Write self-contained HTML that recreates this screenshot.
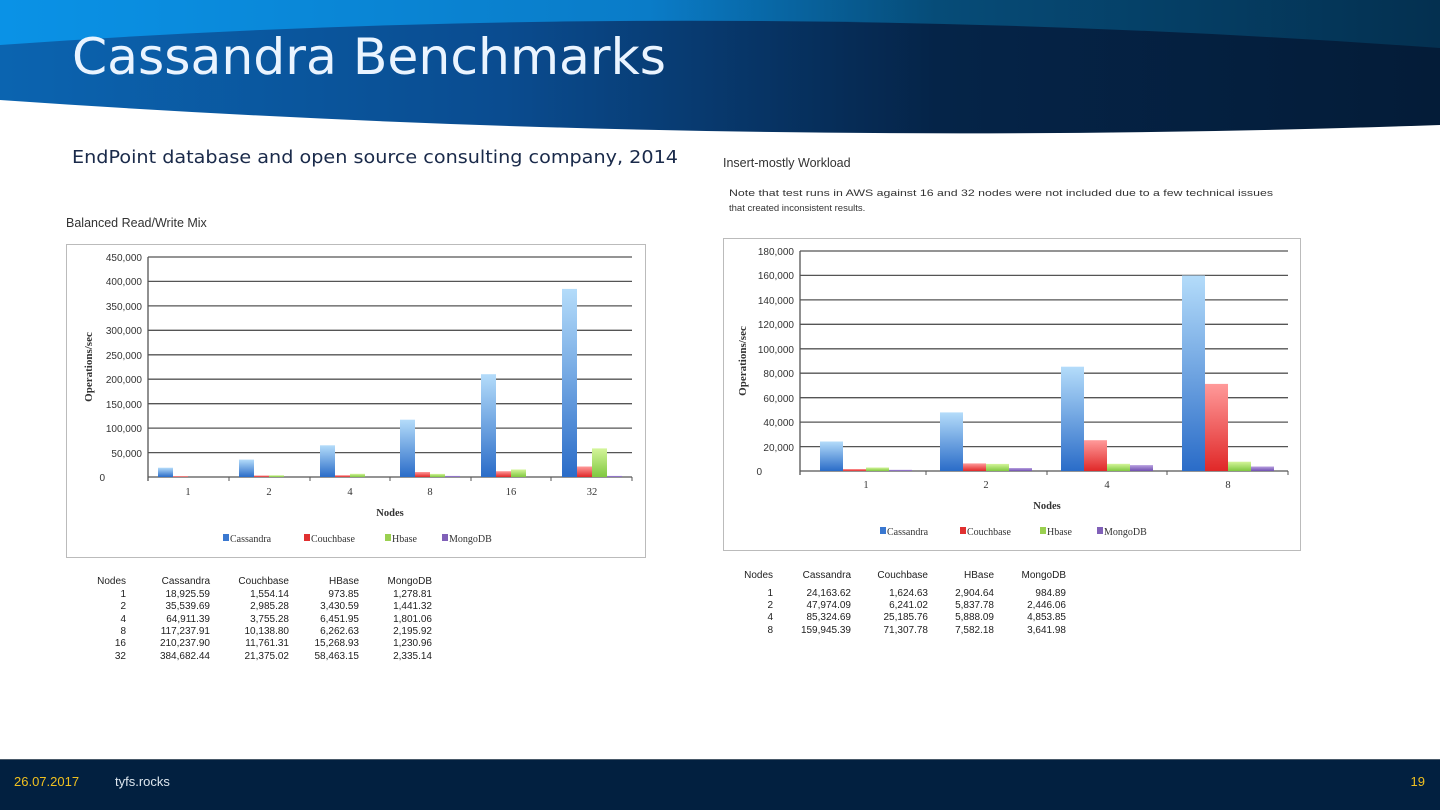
<!DOCTYPE html>
<html><head><meta charset="utf-8"><style>
body{margin:0;width:1440px;height:810px;overflow:hidden;background:#fff;font-family:"Liberation Sans",sans-serif;}
svg{display:block}
</style></head><body>
<svg width="1440" height="810" xmlns="http://www.w3.org/2000/svg">
<defs>
<linearGradient id="top" x1="0" x2="1" y1="0" y2="0"><stop offset="0" stop-color="#0a92e6"/><stop offset="0.45" stop-color="#0a7cc8"/><stop offset="0.65" stop-color="#064c78"/><stop offset="1" stop-color="#043050"/></linearGradient>
<linearGradient id="ell" x1="0" x2="1" y1="0" y2="0"><stop offset="0" stop-color="#0b64b0"/><stop offset="0.35" stop-color="#0a4c90"/><stop offset="0.65" stop-color="#052448"/><stop offset="1" stop-color="#041c38"/></linearGradient>
<linearGradient id="gc" x1="0" x2="0" y1="0" y2="1"><stop offset="0" stop-color="#b4dcfa"/><stop offset="1" stop-color="#2a6cc8"/></linearGradient>
<linearGradient id="gr" x1="0" x2="0" y1="0" y2="1"><stop offset="0" stop-color="#ff9a9a"/><stop offset="1" stop-color="#e02828"/></linearGradient>
<linearGradient id="gg" x1="0" x2="0" y1="0" y2="1"><stop offset="0" stop-color="#d4f59a"/><stop offset="1" stop-color="#80c840"/></linearGradient>
<linearGradient id="gp" x1="0" x2="0" y1="0" y2="1"><stop offset="0" stop-color="#b8a0e0"/><stop offset="1" stop-color="#7050b0"/></linearGradient>
</defs>
<path d="M0 0H1440V120Q720 90 0 60Z" fill="url(#top)"/>
<path d="M0 45Q700 -5 1440 48V125Q720 150 0 100Z" fill="url(#ell)"/>
<text x="72" y="74" font-family="'DejaVu Sans',sans-serif" font-size="50" fill="#eaf4ff" textLength="594" lengthAdjust="spacingAndGlyphs">Cassandra Benchmarks</text>
<text x="72" y="163" font-family="'DejaVu Sans',sans-serif" font-size="18" fill="#1a2a4a" textLength="606" lengthAdjust="spacingAndGlyphs">EndPoint database and open source consulting company, 2014</text>

<text x="66" y="227" font-size="12.5" fill="#333">Balanced Read/Write Mix</text>
<rect x="66.5" y="244.5" width="579" height="313" fill="#fff" stroke="#bbb"/>
<g stroke="#555" stroke-width="1.3">
<line x1="148" y1="257" x2="632" y2="257"/><line x1="148" y1="281.4" x2="632" y2="281.4"/><line x1="148" y1="305.9" x2="632" y2="305.9"/><line x1="148" y1="330.3" x2="632" y2="330.3"/><line x1="148" y1="354.8" x2="632" y2="354.8"/><line x1="148" y1="379.2" x2="632" y2="379.2"/><line x1="148" y1="403.7" x2="632" y2="403.7"/><line x1="148" y1="428.1" x2="632" y2="428.1"/><line x1="148" y1="452.6" x2="632" y2="452.6"/><line x1="148" y1="477" x2="632" y2="477"/>
<line x1="148" y1="257" x2="148" y2="481"/>
</g>
<g font-size="10" fill="#333" text-anchor="end">
<text x="142" y="261">450,000</text><text x="142" y="285">400,000</text><text x="142" y="310">350,000</text><text x="142" y="334">300,000</text><text x="142" y="359">250,000</text><text x="142" y="383">200,000</text><text x="142" y="408">150,000</text><text x="142" y="432">100,000</text><text x="142" y="457">50,000</text><text x="105" y="481">0</text>
</g>
<text transform="translate(92,367) rotate(-90)" font-family="'Liberation Serif',serif" font-weight="bold" font-size="11" text-anchor="middle" fill="#333">Operations/sec</text>
<g>
<rect x="158" y="467.7" width="15" height="9.3" fill="url(#gc)"/><rect x="173" y="476.2" width="15" height="0.8" fill="url(#gr)"/>
<rect x="239" y="459.6" width="15" height="17.4" fill="url(#gc)"/><rect x="254" y="475.5" width="15" height="1.5" fill="url(#gr)"/><rect x="269" y="475.3" width="15" height="1.7" fill="url(#gg)"/>
<rect x="320" y="445.3" width="15" height="31.7" fill="url(#gc)"/><rect x="335" y="475.2" width="15" height="1.8" fill="url(#gr)"/><rect x="350" y="473.8" width="15" height="3.2" fill="url(#gg)"/>
<rect x="400" y="419.7" width="15" height="57.3" fill="url(#gc)"/><rect x="415" y="472" width="15" height="5" fill="url(#gr)"/><rect x="430" y="473.9" width="15" height="3.1" fill="url(#gg)"/><rect x="445" y="475.9" width="15" height="1.1" fill="url(#gp)"/>
<rect x="481" y="374.2" width="15" height="102.8" fill="url(#gc)"/><rect x="496" y="471.2" width="15" height="5.8" fill="url(#gr)"/><rect x="511" y="469.5" width="15" height="7.5" fill="url(#gg)"/>
<rect x="562" y="288.9" width="15" height="188.1" fill="url(#gc)"/><rect x="577" y="466.5" width="15" height="10.5" fill="url(#gr)"/><rect x="592" y="448.4" width="15" height="28.6" fill="url(#gg)"/><rect x="607" y="475.9" width="15" height="1.1" fill="url(#gp)"/>
</g>
<g stroke="#555"><line x1="229" y1="477" x2="229" y2="481"/><line x1="310" y1="477" x2="310" y2="481"/><line x1="390" y1="477" x2="390" y2="481"/><line x1="471" y1="477" x2="471" y2="481"/><line x1="551" y1="477" x2="551" y2="481"/><line x1="632" y1="477" x2="632" y2="481"/></g>
<g font-family="'Liberation Serif',serif" font-size="10.5" fill="#333" text-anchor="middle">
<text x="188" y="495">1</text><text x="269" y="495">2</text><text x="350" y="495">4</text><text x="430" y="495">8</text><text x="511" y="495">16</text><text x="592" y="495">32</text>
<text x="390" y="516" font-weight="bold">Nodes</text>
</g>
<g font-family="'Liberation Serif',serif" font-size="10" fill="#333">
<rect x="223" y="534" width="6" height="7" fill="#3a78d0"/><text x="230" y="542">Cassandra</text>
<rect x="304" y="534" width="6" height="7" fill="#e03030"/><text x="311" y="542">Couchbase</text>
<rect x="385" y="534" width="6" height="7" fill="#9ad050"/><text x="392" y="542">Hbase</text>
<rect x="442" y="534" width="6" height="7" fill="#8060b8"/><text x="449" y="542">MongoDB</text>
</g>
<g font-size="10" fill="#222" text-anchor="end">
<text x="126" y="584">Nodes</text><text x="210" y="584">Cassandra</text><text x="289" y="584">Couchbase</text><text x="359" y="584">HBase</text><text x="432" y="584">MongoDB</text>
<text x="126" y="597">1</text><text x="210" y="597">18,925.59</text><text x="289" y="597">1,554.14</text><text x="359" y="597">973.85</text><text x="432" y="597">1,278.81</text>
<text x="126" y="609">2</text><text x="210" y="609">35,539.69</text><text x="289" y="609">2,985.28</text><text x="359" y="609">3,430.59</text><text x="432" y="609">1,441.32</text>
<text x="126" y="622">4</text><text x="210" y="622">64,911.39</text><text x="289" y="622">3,755.28</text><text x="359" y="622">6,451.95</text><text x="432" y="622">1,801.06</text>
<text x="126" y="634">8</text><text x="210" y="634">117,237.91</text><text x="289" y="634">10,138.80</text><text x="359" y="634">6,262.63</text><text x="432" y="634">2,195.92</text>
<text x="126" y="646">16</text><text x="210" y="646">210,237.90</text><text x="289" y="646">11,761.31</text><text x="359" y="646">15,268.93</text><text x="432" y="646">1,230.96</text>
<text x="126" y="659">32</text><text x="210" y="659">384,682.44</text><text x="289" y="659">21,375.02</text><text x="359" y="659">58,463.15</text><text x="432" y="659">2,335.14</text>
</g>

<text x="723" y="167" font-size="12.5" fill="#333">Insert-mostly Workload</text>
<text x="729" y="196" font-size="9.5" fill="#333" textLength="544" lengthAdjust="spacingAndGlyphs">Note that test runs in AWS against 16 and 32 nodes were not included due to a few technical issues</text>
<text x="729" y="211" font-size="9.5" fill="#333">that created inconsistent results.</text>
<rect x="723.5" y="238.5" width="577" height="312" fill="#fff" stroke="#bbb"/>
<g stroke="#555" stroke-width="1.3">
<line x1="800" y1="251" x2="1288" y2="251"/><line x1="800" y1="275.4" x2="1288" y2="275.4"/><line x1="800" y1="299.9" x2="1288" y2="299.9"/><line x1="800" y1="324.3" x2="1288" y2="324.3"/><line x1="800" y1="348.8" x2="1288" y2="348.8"/><line x1="800" y1="373.2" x2="1288" y2="373.2"/><line x1="800" y1="397.7" x2="1288" y2="397.7"/><line x1="800" y1="422.1" x2="1288" y2="422.1"/><line x1="800" y1="446.6" x2="1288" y2="446.6"/><line x1="800" y1="471" x2="1288" y2="471"/>
<line x1="800" y1="251" x2="800" y2="475"/>
</g>
<g font-size="10" fill="#333" text-anchor="end">
<text x="794" y="255">180,000</text><text x="794" y="279">160,000</text><text x="794" y="304">140,000</text><text x="794" y="328">120,000</text><text x="794" y="353">100,000</text><text x="794" y="377">80,000</text><text x="794" y="402">60,000</text><text x="794" y="426">40,000</text><text x="794" y="451">20,000</text><text x="762" y="475">0</text>
</g>
<text transform="translate(746,361) rotate(-90)" font-family="'Liberation Serif',serif" font-weight="bold" font-size="11" text-anchor="middle" fill="#333">Operations/sec</text>
<g>
<rect x="820" y="441.5" width="23" height="29.5" fill="url(#gc)"/><rect x="843" y="469" width="23" height="2" fill="url(#gr)"/><rect x="866" y="467.5" width="23" height="3.5" fill="url(#gg)"/><rect x="889" y="469.8" width="23" height="1.2" fill="url(#gp)"/>
<rect x="940" y="412.4" width="23" height="58.6" fill="url(#gc)"/><rect x="963" y="463.4" width="23" height="7.6" fill="url(#gr)"/><rect x="986" y="463.9" width="23" height="7.1" fill="url(#gg)"/><rect x="1009" y="468" width="23" height="3" fill="url(#gp)"/>
<rect x="1061" y="366.7" width="23" height="104.3" fill="url(#gc)"/><rect x="1084" y="440.2" width="23" height="30.8" fill="url(#gr)"/><rect x="1107" y="463.8" width="23" height="7.2" fill="url(#gg)"/><rect x="1130" y="465.1" width="23" height="5.9" fill="url(#gp)"/>
<rect x="1182" y="275.5" width="23" height="195.5" fill="url(#gc)"/><rect x="1205" y="383.9" width="23" height="87.1" fill="url(#gr)"/><rect x="1228" y="461.7" width="23" height="9.3" fill="url(#gg)"/><rect x="1251" y="466.5" width="23" height="4.5" fill="url(#gp)"/>
</g>
<g stroke="#555"><line x1="926" y1="471" x2="926" y2="475"/><line x1="1047" y1="471" x2="1047" y2="475"/><line x1="1167" y1="471" x2="1167" y2="475"/><line x1="1288" y1="471" x2="1288" y2="475"/></g>
<g font-family="'Liberation Serif',serif" font-size="10.5" fill="#333" text-anchor="middle">
<text x="866" y="488">1</text><text x="986" y="488">2</text><text x="1107" y="488">4</text><text x="1228" y="488">8</text>
<text x="1047" y="509" font-weight="bold">Nodes</text>
</g>
<g font-family="'Liberation Serif',serif" font-size="10" fill="#333">
<rect x="880" y="527" width="6" height="7" fill="#3a78d0"/><text x="887" y="535">Cassandra</text>
<rect x="960" y="527" width="6" height="7" fill="#e03030"/><text x="967" y="535">Couchbase</text>
<rect x="1040" y="527" width="6" height="7" fill="#9ad050"/><text x="1047" y="535">Hbase</text>
<rect x="1097" y="527" width="6" height="7" fill="#8060b8"/><text x="1104" y="535">MongoDB</text>
</g>
<g font-size="10" fill="#222" text-anchor="end">
<text x="773" y="578">Nodes</text><text x="851" y="578">Cassandra</text><text x="928" y="578">Couchbase</text><text x="994" y="578">HBase</text><text x="1066" y="578">MongoDB</text>
<text x="773" y="596">1</text><text x="851" y="596">24,163.62</text><text x="928" y="596">1,624.63</text><text x="994" y="596">2,904.64</text><text x="1066" y="596">984.89</text>
<text x="773" y="608">2</text><text x="851" y="608">47,974.09</text><text x="928" y="608">6,241.02</text><text x="994" y="608">5,837.78</text><text x="1066" y="608">2,446.06</text>
<text x="773" y="620">4</text><text x="851" y="620">85,324.69</text><text x="928" y="620">25,185.76</text><text x="994" y="620">5,888.09</text><text x="1066" y="620">4,853.85</text>
<text x="773" y="633">8</text><text x="851" y="633">159,945.39</text><text x="928" y="633">71,307.78</text><text x="994" y="633">7,582.18</text><text x="1066" y="633">3,641.98</text>
</g>

<rect x="0" y="759" width="1440" height="51" fill="#022040"/>
<line x1="0" y1="759.5" x2="1440" y2="759.5" stroke="#4a5a6a"/>
<text x="14" y="786" font-size="13" fill="#f0c020">26.07.2017</text>
<text x="115" y="786" font-size="13" fill="#dde6ee">tyfs.rocks</text>
<text x="1425" y="786" font-size="13" fill="#f0c020" text-anchor="end">19</text>
</svg>
</body></html>
